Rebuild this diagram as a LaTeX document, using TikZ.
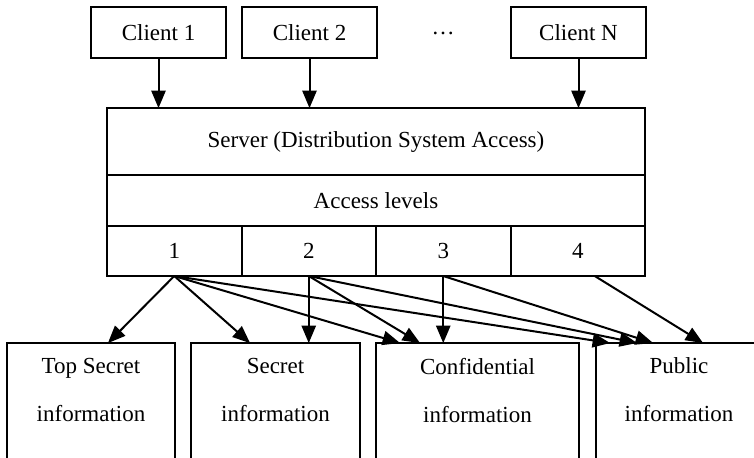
\documentclass[tikz,border=0pt]{standalone}
\usepackage{fontspec}
\setmainfont{Liberation Serif}
\usetikzlibrary{arrows,positioning,calc}

\begin{document}
\begin{tikzpicture}[>=triangle 45,line width=1pt,x=0.5pt,y=-0.5pt,font=\fontsize{11.5pt}{24pt}\selectfont,
  box/.style={draw,rectangle,inner sep=0pt,outer sep=0pt},
  client/.style={box,minimum width=67.5pt,minimum height=25.5pt},
  cell/.style={box,minimum width=67.25pt,minimum height=25pt},
  infobox/.style={box,anchor=north,minimum height=75pt},
  infotext/.style={align=center}]
\useasboundingbox (0,0) rectangle (754,457);
\clip (0,0) rectangle (754,457);

% clients
\node[client] (c1) at (158.5,32.5) {Client 1};
\node[client] (c2) at (309.5,32.5) {Client 2};
\node (dots) at (443,33) {\dots};
\node[client] (cN) at (578.5,32.5) {Client N};

% server with access levels
\node[box,minimum width=269pt,minimum height=33.5pt] (server) at (376,141.5) {Server (Distribution System Access)};
\node[box,minimum width=269pt,minimum height=25.5pt,below=0pt of server] (access) {Access levels};
\node[cell,anchor=north west] (l1) at (access.south west) {1};
\node[cell,right=0pt of l1] (l2) {2};
\node[cell,right=0pt of l2] (l3) {3};
\node[cell,right=0pt of l3] (l4) {4};

\draw[->] (c1.south) -- (c1.south |- server.north);
\draw[->] (c2.south) -- (c2.south |- server.north);
\draw[->] (cN.south) -- (cN.south |- server.north);

% information classes
\node[infobox,minimum width=84pt] (topsecret) at (91,343) {};
\node[infobox,minimum width=84.5pt] (secret) at (275.5,343) {};
\node[infobox,minimum width=101.5pt] (confidential) at (477.5,343) {};
\node[infobox,minimum width=83pt] (public) at (679,343) {};

\node[infotext] (topsecrettext) at ([yshift=-23.5pt]topsecret.north) {Top Secret\\information};
\node[infotext] (secrettext) at ([yshift=-23.5pt]secret.north) {Secret\\information};
\node[infotext] (confidentialtext) at ([yshift=-23.5pt]confidential.north) {Confidential\\information};
\node[infotext] (publictext) at ([yshift=-23.5pt]public.north) {Public\\information};

\draw[->] (l1.south) -- ([xshift=8.5pt]topsecret.north);
\draw[->] (l1.south) -- ([xshift=-12.75pt]secret.north);
\draw[->] (l1.south) -- ([xshift=-38.75pt]confidential.north);
\draw[->] (l1.south) -- ([xshift=-34.5pt]public.north);
\draw[->] (l2.south) -- (l2.south |- secret.north);
\draw[->] (l2.south) -- ([xshift=-28.75pt]confidential.north);
\draw[->] (l2.south) -- ([xshift=-21pt]public.north);
\draw[->] (l3.south) -- (l3.south |- confidential.north);
\draw[->] (l3.south) -- ([xshift=-13pt]public.north);
\draw[->] ([xshift=8.5pt]l4.south) -- ([xshift=12pt]public.north);

\end{tikzpicture}
\end{document}
